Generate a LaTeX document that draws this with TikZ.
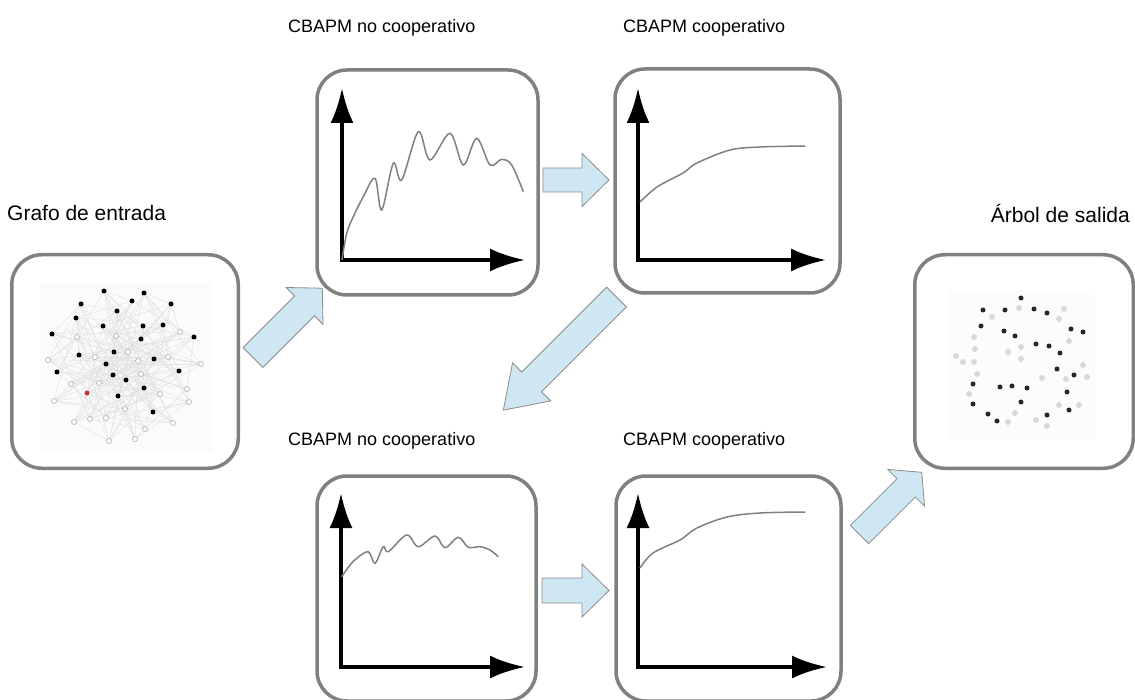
\documentclass[tikz,border=0pt]{standalone}
\usepackage{fontspec}
\setmainfont{Liberation Sans}
\usepackage{tikz}
\usetikzlibrary{arrows.meta,positioning,calc}
\definecolor{frame}{HTML}{808080}
\definecolor{sky}{HTML}{CFE6F3}
\definecolor{skyline}{HTML}{8C8C8C}
\definecolor{hotnode}{HTML}{C8303A}

% block arrow: tail coordinate, angle, length, shaft half width, head half width, head length
\newcommand\flowarrow[6]{%
  \begin{scope}[shift={(#1)},rotate=#2]
    \draw[flow] (0,-#4) -- ({#3-#6},-#4) -- ({#3-#6},-#5) -- (#3,0)
      -- ({#3-#6},#5) -- ({#3-#6},#4) -- (0,#4) -- cycle;
  \end{scope}}

\begin{document}
\begin{tikzpicture}[
  x=1pt,y=-1pt,
  panel/.style={draw=frame,line width=3.5pt,rounded corners=30pt,fill=white,inner sep=0pt},
  caption/.style={font=\fontsize{18}{22}\selectfont,inner sep=0pt},
  sidecaption/.style={font=\fontsize{21}{25}\selectfont,inner sep=0pt},
  axis/.style={line width=4pt,{Latex[length=35pt,width=23pt]}-{Latex[length=35pt,width=23pt]}},
  trend/.style={draw=frame,line width=1.5pt,smooth,tension=0.55},
  flow/.style={draw=skyline,line width=0.8pt,fill=sky,line join=miter},
  blackdot/.style={circle,fill=black,inner sep=0pt,minimum size=5pt},
  opendot/.style={circle,draw=gray!70,fill=white,line width=0.5pt,inner sep=0pt,minimum size=5pt},
  reddot/.style={circle,fill=hotnode,inner sep=0pt,minimum size=5pt},
  darkdot/.style={circle,fill=black!85,inner sep=0pt,minimum size=5pt},
  palenode/.style={circle,fill=gray!30,inner sep=0pt,minimum size=6pt},
  web/.style={draw=gray!22,line width=0.5pt}
]
\useasboundingbox (0,0) rectangle (1135,700);

% panels
\node[panel,minimum width=226.5pt,minimum height=213.5pt] (input) at (125,361.5) {};
\node[panel,minimum width=221pt,minimum height=225pt] (nc1) at (427.5,182.5) {};
\node[panel,minimum width=225pt,minimum height=224pt] (co1) at (727.5,181) {};
\node[panel,minimum width=219pt,minimum height=225pt] (nc2) at (426.5,588.5) {};
\node[panel,minimum width=225pt,minimum height=225pt] (co2) at (728.5,588.5) {};
\node[panel,minimum width=218.5pt,minimum height=213.5pt] (output) at (1024,361.5) {};

% captions
\node[caption,anchor=west] (capnc1) at (288,28) {CBAPM no cooperativo};
\node[caption,anchor=west] (capco1) at (623,28) {CBAPM cooperativo};
\node[sidecaption,anchor=west] (capin) at (7,213) {Grafo de entrada};
\node[sidecaption,anchor=east] (capout) at (1130,213) {Árbol de salida};
\node[caption,anchor=west] (capnc2) at (288,441) {CBAPM no cooperativo};
\node[caption,anchor=west] (capco2) at (623,441) {CBAPM cooperativo};

% input graph
\fill[gray!3] (40,282) rectangle (213,452);
\foreach \x/\y/\t [count=\i] in {104/291/blackdot,144/293/blackdot,81/304/blackdot,
  132/301/blackdot,171/304/blackdot,117/311/blackdot,76/318/blackdot,103/326/blackdot,
  143/326/blackdot,163/325/blackdot,52/334/blackdot,194/337/blackdot,141/339/blackdot,
  114/352/blackdot,79/355/blackdot,154/359/blackdot,106/364/blackdot,57/372/blackdot,
  179/371/blackdot,113/375/blackdot,126/380/blackdot,144/388/blackdot,118/396/blackdot,
  153/412/blackdot,87/393/reddot,77/337/opendot,116/336/opendot,180/332/opendot,
  48/360/opendot,95/357/opendot,128/352/opendot,138/361/opendot,168/357/opendot,
  201/364/opendot,141/374/opendot,71/384/opendot,99/383/opendot,187/389/opendot,
  54/401/opendot,160/394/opendot,189/402/opendot,125/409/opendot,90/419/opendot,
  106/418/opendot,74/422/opendot,145/429/opendot,173/423/opendot,109/441/opendot,
  135/439/opendot}
  \coordinate (g\i) at (\x,\y);
\foreach \i in {1,...,49}
  \foreach \k in {3,8,17,23}{
    \pgfmathtruncatemacro\j{mod(\i+\k-1,49)+1}
    \draw[web] (g\i) -- (g\j);
  }
\foreach \x/\y/\t [count=\i] in {104/291/blackdot,144/293/blackdot,81/304/blackdot,
  132/301/blackdot,171/304/blackdot,117/311/blackdot,76/318/blackdot,103/326/blackdot,
  143/326/blackdot,163/325/blackdot,52/334/blackdot,194/337/blackdot,141/339/blackdot,
  114/352/blackdot,79/355/blackdot,154/359/blackdot,106/364/blackdot,57/372/blackdot,
  179/371/blackdot,113/375/blackdot,126/380/blackdot,144/388/blackdot,118/396/blackdot,
  153/412/blackdot,87/393/reddot,77/337/opendot,116/336/opendot,180/332/opendot,
  48/360/opendot,95/357/opendot,128/352/opendot,138/361/opendot,168/357/opendot,
  201/364/opendot,141/374/opendot,71/384/opendot,99/383/opendot,187/389/opendot,
  54/401/opendot,160/394/opendot,189/402/opendot,125/409/opendot,90/419/opendot,
  106/418/opendot,74/422/opendot,145/429/opendot,173/423/opendot,109/441/opendot,
  135/439/opendot}
  \node[\t] (v\i) at (g\i) {};

% output tree
\fill[gray!2] (948,290) rectangle (1095,440);
\foreach \x/\y [count=\i] in {1019/308,992/317,1064/309,1059/319,974/337,975/349,
  1021/347,1008/352,1021/359,1069/341,956/356,963/362,974/362,977/374,1083/365,
  1042/378,1066/379,1087/377,969/394,1059/405,1079/405,1015/413,1008/422,1036/420,1047/426}
  \node[palenode] (p\i) at (\x,\y) {};
\foreach \x/\y [count=\i] in {1021/298,983/310,1005/310,1034/309,1047/313,981/326,
  1071/329,1004/331,1015/336,1036/344,1049/346,1060/353,1057/369,1074/375,973/384,
  1000/387,1012/386,1027/388,1067/392,973/404,1021/402,1069/410,988/414,997/421,
  1047/415,1083/332}
  \node[darkdot] (t\i) at (\x,\y) {};

% plots
\draw[axis] (342,88) |- (525,260);
\draw[trend] plot coordinates {(342,260) (346.7,233.3) (353.3,216.7) (363.3,196.7)
  (375,178.3) (381.7,210) (393.3,163.3) (401.7,180) (418.3,131.7) (430,160)
  (450,133.3) (463.3,165) (476.7,138.3) (490,165) (501.7,159.3) (511.7,165) (523.3,191.7)};
\draw[axis] (638,88) |- (826,260);
\draw[trend] plot coordinates {(640,202) (657,187) (683,173) (697,163) (730,150)
  (760,147) (805,146)};
\draw[axis] (341,493) |- (525,667);
\draw[trend] plot coordinates {(341.7,576.7) (350,565) (356.7,558.3) (368.3,551.7)
  (375,563.3) (383.3,546.7) (388.3,551.7) (406.7,535) (418.3,546.7) (435,536)
  (445,547.7) (458.3,537.3) (468.3,547.3) (480,546.7) (490,550) (498.3,556.7)};
\draw[axis] (638,493) |- (827,667);
\draw[trend] plot coordinates {(640,568) (653,553) (680,540) (697,528) (727,517)
  (760,513) (805,512)};

% flow between panels
\coordinate (a1) at (253,357.5);
\coordinate (a2) at (543,180);
\coordinate (a3) at (616.5,297);
\coordinate (a4) at (542,590.5);
\coordinate (a5) at (859.5,534.5);
\flowarrow{a1}{45}{98}{14}{26}{25}
\flowarrow{a2}{0}{66}{12}{26.5}{27}
\flowarrow{a3}{225}{160}{14}{27}{40}
\flowarrow{a4}{0}{67}{12.5}{26.5}{27}
\flowarrow{a5}{45}{88}{13}{26}{22}
\end{tikzpicture}
\end{document}
